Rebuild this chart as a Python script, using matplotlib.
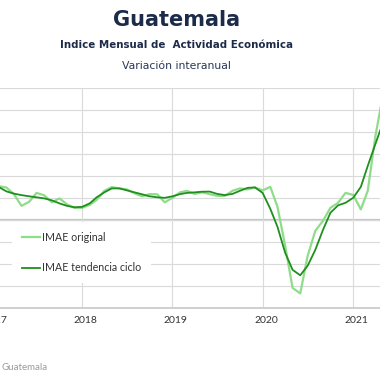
import numpy as np
import pandas as pd
import matplotlib
matplotlib.use("Agg")
import matplotlib.pyplot as plt
from matplotlib.transforms import ScaledTranslation

plt.rcParams['font.family'] = ['Lato', 'DejaVu Sans']

# IMAE Guatemala, variacion interanual (%), ene-2017 a may-2021
meses = pd.date_range("2017-01-01", periods=53, freq="MS")
imae_original = [3.18, 3.05, 2.94, 2.32, 1.27, 1.64, 2.45, 2.23, 1.59, 1.95, 1.41, 1.09,
                 1.09, 1.36, 1.82, 2.64, 2.98, 2.86, 2.77, 2.41, 2.14, 2.34, 2.32, 1.59,
                 2.00, 2.50, 2.64, 2.36, 2.50, 2.34, 2.18, 2.18, 2.64, 2.86, 2.77, 2.95,
                 2.68, 3.00, 1.18, -2.36, -6.20, -6.70, -3.27, -1.00, -0.09, 1.09, 1.55, 2.45,
                 2.27, 0.95, 2.64, 7.64, 11.30]
imae_tendencia = [3.14, 2.95, 2.59, 2.38, 2.25, 2.14, 2.05, 1.95, 1.77, 1.50, 1.27, 1.14,
                  1.18, 1.50, 2.05, 2.50, 2.86, 2.86, 2.68, 2.50, 2.32, 2.14, 2.05, 2.00,
                  2.14, 2.34, 2.45, 2.50, 2.56, 2.57, 2.36, 2.25, 2.36, 2.64, 2.91, 2.95,
                  2.45, 1.00, -0.64, -3.00, -4.55, -5.05, -4.18, -2.73, -0.91, 0.64, 1.32, 1.55,
                  2.00, 3.00, 4.91, 6.91, 8.82]
anios = [2017, 2018, 2019, 2020, 2021]

W = H = 380
fig = plt.figure(figsize=(3.8, 3.8), dpi=100)

# el area del grafico se sale del lienzo por ambos lados (recorte del original)
ax = fig.add_axes([-8.18 / W, 1 - 307.7 / H, 398.7 / W, (307.7 - 88) / H])
ax.set_xlim(pd.Timestamp("2017-01-01"), pd.Timestamp("2021-06-01"))
ax.set_ylim(-8, 12)

ax.plot(meses, imae_original, color="#8fdc8a", lw=1.6, label="IMAE original", zorder=3)
ax.plot(meses, imae_tendencia, color="#1f8f1f", lw=1.3, label="IMAE tendencia ciclo", zorder=4)

ax.set_yticks(np.arange(-8, 13, 2))
ax.set_yticklabels([])
ax.set_xticks([pd.Timestamp(f"{a}-01-01") for a in anios])
ax.set_xticklabels([str(a) for a in anios], fontsize=7.5, color="#333333")
ax.tick_params(length=0, pad=6)
for lbl in ax.get_xticklabels():
    lbl.set_transform(lbl.get_transform() + ScaledTranslation(3.5 / 100, 0, fig.dpi_scale_trans))

ax.grid(True, color="#dadada", lw=0.8, zorder=0)
ax.axhline(0, color="#c4c4c4", lw=1.6, zorder=1)
for s in ["top", "left", "right"]:
    ax.spines[s].set_visible(False)
ax.spines["bottom"].set_color("#cfcfcf")
ax.spines["bottom"].set_linewidth(1.4)

leg = ax.legend(loc="upper left", bbox_to_anchor=(12 / W, 1 - 222 / H), bbox_transform=fig.transFigure,
                borderaxespad=0, frameon=True, fancybox=False, framealpha=1, edgecolor="none",
                facecolor="white", fontsize=7.7, handlelength=1.75, handletextpad=0.2,
                labelspacing=1.85, borderpad=0.9)
for t in leg.get_texts():
    t.set_color("#333333")

fig.text(177 / W, 1 - 20 / H, "Guatemala", ha="center", va="center", fontsize=15,
         fontweight="bold", color="#1c2b4a", family="DejaVu Sans")
fig.text(176.5 / W, 1 - 44.5 / H, "Indice Mensual de  Actividad Económica", ha="center", va="center",
         fontsize=7.4, fontweight="bold", color="#1c2b4a", family="DejaVu Sans")
fig.text(176 / W, 1 - 66 / H, "Variación interanual", ha="center", va="center",
         fontsize=7.8, color="#2a3856", family="DejaVu Sans")
fig.text(2 / W, 1 - 368 / H, "Guatemala", ha="left", va="center", fontsize=7, color="#9a9a9a")

fig.savefig("out.png", dpi=100)
